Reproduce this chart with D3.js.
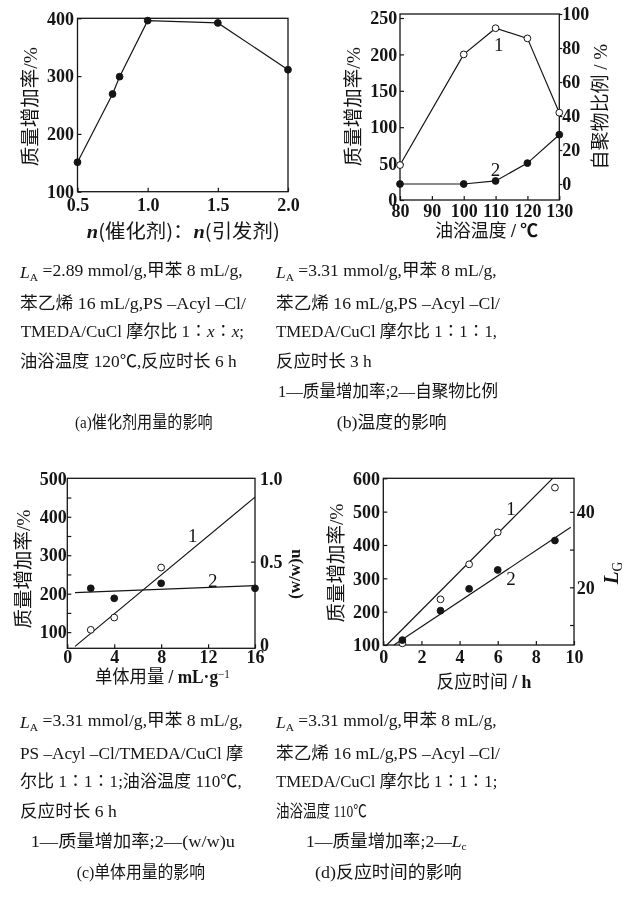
<!DOCTYPE html>
<html>
<head>
<meta charset="utf-8">
<script src="https://cdn.jsdelivr.net/npm/d3@7"></script>
<style>
  body { margin: 0; background: #fff; }
  svg { display: block; will-change: transform; }
  text { -webkit-font-smoothing: antialiased; }
</style>
</head>
<body>
<svg id="chart" width="641" height="915"></svg>
<script>
// (a) catalyst amount
const aRatio = [0.5, 0.75, 0.8, 1.0, 1.5, 2.0];
const aGain = [151, 269, 299, 396, 392, 311];
const aXTicks = [0.5, 1.0, 1.5, 2.0];
const aYTicks = [100, 200, 300, 400];

// (b) temperature
const bTemp = [80, 100, 110, 120, 130];
const bGain = [48, 200, 236, 222, 120];
const bSelf = [0, 0, 1.8, 12.3, 29];
const bXTicks = [80, 90, 100, 110, 120, 130];
const bYTicks = [0, 50, 100, 150, 200, 250];
const bY2Ticks = [0, 20, 40, 60, 80, 100];

// (c) monomer amount
const cMonomer = [2, 4, 8];
const cGain = [106, 138, 268];
const cMonomer2 = [2, 4, 8, 16];
const cWwu = [0.34, 0.28, 0.37, 0.34];
const cFitX = [0.66, 16];
const cFit1 = [63, 451];
const cFit2 = [0.314, 0.356];
const cXTicks = [0, 4, 8, 12, 16];
const cYTicks = [100, 200, 300, 400, 500];
const cYMinor = [100, 150, 200, 250, 300, 350, 400, 450];
const cY2Ticks = [0, 0.5, 1.0];

// (d) reaction time
const dTime = [1, 3, 4.5, 6, 9];
const dGain = [105, 237, 342, 438, 572];
const dLG = [6.0, 13.8, 19.6, 24.6, 32.4];
const dFit1X = [0.18, 8.88];
const dFit1 = [100, 600];
const dFit2X = [0.56, 9.83];
const dFit2 = [4.7, 35.9];
const dXTicks = [0, 2, 4, 6, 8, 10];
const dYTicks = [100, 200, 300, 400, 500, 600];
const dY2Ticks = [20, 40];
const dY2Minor = [10, 20, 30, 40];

const svg = d3.select("#chart");
const serif = "'Liberation Serif', 'Noto Sans CJK SC', serif";
const hei = "'Noto Sans CJK SC', 'Liberation Serif', sans-serif";
const ink = "#151515";

function Frame(x, y) {
    const [x0, x1] = x.range(), [y0, y1] = y.range();
    svg.append("rect")
        .attr("x", x0).attr("y", y1)
        .attr("width", x1 - x0).attr("height", y0 - y1)
        .attr("fill", "none").attr("stroke", ink).attr("stroke-width", 1.3);
}

function Axis(kind, scale, pos, values, fmt, tick, pad) {
    const ax = kind(scale).tickValues(values).tickSizeOuter(0).tickSizeInner(tick).tickPadding(pad);
    if (fmt !== null) ax.tickFormat(fmt);
    const vertical = kind === d3.axisLeft || kind === d3.axisRight;
    const g = svg.append("g")
        .attr("transform", vertical ? `translate(${pos},0)` : `translate(0,${pos})`)
        .call(ax);
    g.select(".domain").remove();
    g.selectAll("line").attr("stroke", ink).attr("stroke-width", 1.2);
    g.selectAll("text")
        .attr("font-family", serif).attr("font-size", 18)
        .attr("font-weight", "bold").attr("fill", ink);
    return g;
}

function Path(x, y, xs, ys) {
    svg.append("path")
        .datum(xs.map((v, i) => [v, ys[i]]))
        .attr("d", d3.line().x(d => x(d[0])).y(d => y(d[1])))
        .attr("fill", "none").attr("stroke", ink).attr("stroke-width", 1.2);
}

function Dots(x, y, xs, ys, open) {
    svg.append("g")
        .selectAll("circle")
        .data(xs.map((v, i) => [v, ys[i]]))
        .enter()
        .append("circle")
            .attr("cx", d => x(d[0]))
            .attr("cy", d => y(d[1]))
            .attr("r", 3.4)
            .attr("fill", open ? "#fff" : ink)
            .attr("stroke", ink)
            .attr("stroke-width", 1);
}

// parts: [text, style]; styles: hei, b, bi, i, sub, sup
function Rich(t, parts) {
    let shift = 0;
    parts.forEach(([s, st]) => {
        const sp = t.append("tspan").text(s);
        let want = 0;
        if (st === "sub") { want = 0.3; sp.attr("font-size", "0.65em"); }
        if (st === "sup") { want = -0.45; sp.attr("font-size", "0.65em"); }
        if (want !== shift) { sp.attr("dy", (want - shift) + "em"); shift = want; }
        if (st === "hei") sp.attr("font-family", hei).attr("font-weight", "normal");
        if (st === "b") sp.attr("font-family", serif).attr("font-weight", "bold");
        if (st === "bi") sp.attr("font-family", serif).attr("font-weight", "bold").attr("font-style", "italic");
        if (st === "i") sp.attr("font-style", "italic");
    });
}

function Title(cx, cy, w, size, parts, rot) {
    const t = svg.append("text")
        .attr("transform", `translate(${cx},${cy})` + (rot ? " rotate(-90)" : ""))
        .attr("text-anchor", "middle").attr("dy", "0.36em")
        .attr("font-family", serif).attr("font-size", size).attr("fill", ink);
    if (w) t.attr("textLength", w).attr("lengthAdjust", "spacingAndGlyphs");
    Rich(t, parts);
}

function Note(x, y, s) {
    svg.append("text")
        .attr("x", x).attr("y", y).attr("text-anchor", "middle").attr("dy", "0.36em")
        .attr("font-family", serif).attr("font-size", 19).attr("fill", ink)
        .text(s);
}

function Line(x, y, w, parts, size) {
    const t = svg.append("text")
        .attr("x", x).attr("y", y)
        .attr("font-family", serif).attr("font-size", size || 17).attr("fill", ink)
        .attr("textLength", w).attr("lengthAdjust", "spacingAndGlyphs");
    Rich(t, parts);
}

const blank = () => "";

// ---- (a)
{
    const x = d3.scaleLinear().domain([0.5, 2.0]).range([77.5, 288]);
    const y = d3.scaleLinear().domain([100, 400]).range([191.7, 18.3]);
    Frame(x, y);
    Axis(d3.axisBottom, x, 191.7, aXTicks, d3.format(".1f"), -4, 7);
    Axis(d3.axisLeft, y, 77.5, aYTicks, null, -4, 3.5);
    Path(x, y, aRatio, aGain);
    Dots(x, y, aRatio, aGain, false);
    Title(183.3, 231, 193, 19, [["n", "bi"], ["(催化剂)：", "hei"], ["n", "bi"], ["(引发剂)", "hei"]]);
    Title(30, 106.7, 0, 19.5, [["质量增加率", "hei"], ["/%", ""]], true);
}

// ---- (b)
{
    const x = d3.scaleLinear().domain([80, 130]).range([400, 559.3]);
    const y = d3.scaleLinear().domain([0, 255.5]).range([200, 14]);
    const y2 = d3.scaleLinear().domain([-9.4, 100]).range([200, 14]);
    Frame(x, y);
    Axis(d3.axisBottom, x, 200, bXTicks, null, -4, 4.5);
    Axis(d3.axisLeft, y, 400, bYTicks, null, -4, 2.7);
    Axis(d3.axisRight, y2, 559.3, bY2Ticks, null, 3, 0);
    Path(x, y, bTemp, bGain);
    Path(x, y2, bTemp, bSelf);
    Dots(x, y, bTemp, bGain, true);
    Dots(x, y2, bTemp, bSelf, false);
    Note(x(111), y(214), "1");
    Note(x(110), y2(9), "2");
    Title(486.7, 230.5, 103, 18, [["油浴温度", "hei"], [" / ℃", "b"]]);
    Title(352.5, 106.7, 0, 19.5, [["质量增加率", "hei"], ["/%", ""]], true);
    Title(600, 106.7, 0, 19, [["自聚物比例", "hei"], [" / %", ""]], true);
}

// ---- (c)
{
    const x = d3.scaleLinear().domain([0, 16]).range([67.3, 255]);
    const y = d3.scaleLinear().domain([58, 500]).range([648.3, 478.3]);
    const y2 = d3.scaleLinear().domain([-0.02, 1]).range([648.3, 478.3]);
    Frame(x, y);
    Axis(d3.axisBottom, x, 648.3, cXTicks, null, -4, 2.2);
    Axis(d3.axisLeft, y, 67.3, cYMinor, blank, -4, 0);
    Axis(d3.axisLeft, y, 67.3, cYTicks, null, 0, 0.6);
    Axis(d3.axisRight, y2, 255, [0.5], blank, -4, 0);
    Axis(d3.axisRight, y2, 255, cY2Ticks, d => d === 0 ? "0" : d.toFixed(1), 0, 5);
    Path(x, y, cFitX, cFit1);
    Path(x, y2, cFitX, cFit2);
    Dots(x, y, cMonomer, cGain, true);
    Dots(x, y2, cMonomer2, cWwu, false);
    Note(x(10.7), y(353), "1");
    Note(x(12.4), y2(0.39), "2");
    Title(162.5, 677, 135, 18, [["单体用量", "hei"], [" / mL·g", "b"], ["−1", "sup"]]);
    Title(22.5, 569, 0, 19.5, [["质量增加率", "hei"], ["/%", ""]], true);
    Title(293.5, 574, 0, 17, [["(w/w)u", "b"]], true);
}

// ---- (d)
{
    const x = d3.scaleLinear().domain([0, 10]).range([383.3, 574]);
    const y = d3.scaleLinear().domain([100, 600]).range([645, 478.3]);
    const y2 = d3.scaleLinear().domain([4.7, 48.9]).range([645, 478.3]);
    Frame(x, y);
    Axis(d3.axisBottom, x, 645, dXTicks, null, -4, 5.5);
    Axis(d3.axisLeft, y, 383.3, dYTicks, null, -4, 3.3);
    Axis(d3.axisRight, y2, 574, dY2Minor, blank, -4, 0);
    Axis(d3.axisRight, y2, 574, dY2Ticks, null, 0, 2.7);
    Path(x, y, dFit1X, dFit1);
    Path(x, y2, dFit2X, dFit2);
    Dots(x, y, dTime, dGain, true);
    Dots(x, y2, dTime, dLG, false);
    Note(x(6.7), y(510), "1");
    Note(x(6.7), y2(22.4), "2");
    Title(484, 682, 95, 18, [["反应时间", "hei"], [" / h", "b"]]);
    Title(335.5, 563, 0, 19.5, [["质量增加率", "hei"], ["/%", ""]], true);
    Title(610, 573, 0, 21, [["L", "bi"], ["G", "sub"]], true);
}

// ---- condition notes under each chart
const dash = "–";
Line(20, 278, 222.7, [["L", "i"], ["A", "sub"], [" =2.89 mmol/g,甲苯 8 mL/g,", ""]]);
Line(20, 309, 226, [[`苯乙烯 16 mL/g,PS ${dash}Acyl ${dash}Cl/`, ""]]);
Line(20.7, 337, 223.3, [["TMEDA/CuCl 摩尔比 1∶", ""], ["x", "i"], ["∶", ""], ["x", "i"], [";", ""]]);
Line(20, 367, 216.7, [["油浴温度 120℃,反应时长 6 h", ""]]);
Line(75, 428, 137.7, [["(a)催化剂用量的影响", ""]], 17);

Line(276, 278, 220.7, [["L", "i"], ["A", "sub"], [" =3.31 mmol/g,甲苯 8 mL/g,", ""]]);
Line(276, 309, 224, [[`苯乙烯 16 mL/g,PS ${dash}Acyl ${dash}Cl/`, ""]]);
Line(276, 337, 221, [["TMEDA/CuCl 摩尔比 1∶1∶1,", ""]]);
Line(276, 367, 95.7, [["反应时长 3 h", ""]]);
Line(278, 397, 220, [["1—质量增加率;2—自聚物比例", ""]]);
Line(336.7, 428, 110, [["(b)温度的影响", ""]], 17);

Line(20, 728, 222.7, [["L", "i"], ["A", "sub"], [" =3.31 mmol/g,甲苯 8 mL/g,", ""]]);
Line(20, 759, 223.3, [[`PS ${dash}Acyl ${dash}Cl/TMEDA/CuCl 摩`, ""]]);
Line(20, 787, 221.7, [["尔比 1∶1∶1;油浴温度 110℃,", ""]]);
Line(20, 817, 96.7, [["反应时长 6 h", ""]]);
Line(30.7, 847, 204.3, [["1—质量增加率;2—(w/w)u", ""]]);
Line(76.7, 878, 128.3, [["(c)单体用量的影响", ""]], 17);

Line(276, 728, 220.7, [["L", "i"], ["A", "sub"], [" =3.31 mmol/g,甲苯 8 mL/g,", ""]]);
Line(276, 759, 224, [[`苯乙烯 16 mL/g,PS ${dash}Acyl ${dash}Cl/`, ""]]);
Line(276, 787, 221.3, [["TMEDA/CuCl 摩尔比 1∶1∶1;", ""]]);
Line(276, 817, 90.7, [["油浴温度 110℃", ""]]);
Line(306, 847, 160.7, [["1—质量增加率;2—", ""], ["L", "i"], ["c", "sub"]]);
Line(315, 878, 146.7, [["(d)反应时间的影响", ""]], 17);
</script>
</body>
</html>
